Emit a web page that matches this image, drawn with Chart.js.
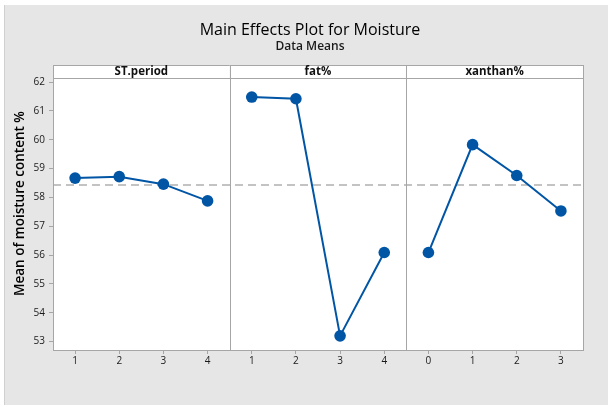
<!DOCTYPE html>
<html>
<head>
<meta charset="utf-8">
<script src="https://cdn.jsdelivr.net/npm/chart.js@4.4.1/dist/chart.umd.min.js"></script>
<style>
  html, body { margin: 0; padding: 0; background: #ffffff; }
  #wrap { position: relative; width: 608px; height: 407px; }
  canvas { position: absolute; left: 0; top: 0; }
  .ttl { position: absolute; left: 0; width: 620px; text-align: center; font-family: "Open Sans", sans-serif; color: #000; white-space: nowrap; }
  #t1 { top: 19px; font-size: 16px; line-height: 20px; font-weight: 500; }
  #t2 { top: 38px; font-size: 12px; line-height: 15px; font-weight: 600; color: #1a1a1a; }
</style>
</head>
<body>
<div id="wrap">
  <canvas id="c" width="608" height="407"></canvas>
  <div class="ttl" id="t1">Main Effects Plot for Moisture</div>
  <div class="ttl" id="t2">Data Means</div>
</div>
<script>
// ---- data ----
const factors = ["ST.period", "fat%", "xanthan%"];
const stLevels = ["1", "2", "3", "4"];
const fatLevels = ["1", "2", "3", "4"];
const xanLevels = ["0", "1", "2", "3"];
const stMeans = [58.67, 58.72, 58.46, 57.88];
const fatMeans = [61.48, 61.42, 53.20, 56.09];
const xanMeans = [56.09, 59.83, 58.76, 57.53];
const grandMean = 58.43;
const yTicks = [53, 54, 55, 56, 57, 58, 59, 60, 61, 62];

const levelSets = [stLevels, fatLevels, xanLevels];
const meanSets = [stMeans, fatMeans, xanMeans];
const tickLabels = [].concat(stLevels, fatLevels, xanLevels);
const perPanel = 4;
const nPanels = factors.length;

const BLUE = "#0055a5";
const GREY = "#a6a6a6";

function panelPoints(p) {
  return meanSets[p].map((v, i) => ({ x: p * perPanel + i + 0.5, y: v }));
}

const datasets = [{
  label: "mean",
  data: [{ x: 0, y: grandMean }, { x: nPanels * perPanel, y: grandMean }],
  borderColor: "#b0b0b0",
  borderWidth: 1.5,
  borderDash: [8, 5],
  pointRadius: 0,
  order: 5
}];
for (let p = 0; p < nPanels; p++) {
  datasets.push({
    label: factors[p],
    data: panelPoints(p),
    borderColor: BLUE,
    backgroundColor: BLUE,
    borderWidth: 2,
    pointRadius: 5.8,
    pointBackgroundColor: BLUE,
    pointBorderColor: BLUE,
    pointBorderWidth: 0,
    order: 1
  });
}

const bgPlugin = {
  id: "bg",
  beforeDraw(chart) {
    const ctx = chart.ctx;
    ctx.save();
    ctx.fillStyle = "#ffffff";
    ctx.fillRect(0, 0, chart.width, chart.height);
    ctx.fillStyle = "#e6e6e6";
    ctx.fillRect(5, 5, chart.width - 5, chart.height - 7);
    ctx.strokeStyle = "#d0d0d0";
    ctx.lineWidth = 1;
    ctx.beginPath();
    ctx.moveTo(4.5, 5); ctx.lineTo(4.5, chart.height - 2);
    ctx.stroke();
    const a = chart.chartArea;
    ctx.fillStyle = "#ffffff";
    ctx.fillRect(a.left, a.top, a.right - a.left, a.bottom - a.top);
    ctx.restore();
  }
};

const framePlugin = {
  id: "frame",
  afterDraw(chart) {
    const ctx = chart.ctx;
    const a = chart.chartArea;
    const xs = chart.scales.x;
    const stripH = 12.6;
    ctx.save();
    // strips
    for (let p = 0; p < nPanels; p++) {
      const l = xs.getPixelForValue(p * perPanel);
      const r = xs.getPixelForValue((p + 1) * perPanel);
      ctx.fillStyle = "#ffffff";
      ctx.fillRect(l, a.top - stripH, r - l, stripH);
      ctx.strokeStyle = GREY;
      ctx.lineWidth = 1;
      ctx.strokeRect(Math.round(l) + 0.5, Math.round(a.top - stripH) + 0.5, Math.round(r - l), Math.round(stripH));
      ctx.fillStyle = "#111";
      ctx.font = "bold 11.5px 'Open Sans', sans-serif";
      ctx.textAlign = "center";
      ctx.textBaseline = "middle";
      ctx.fillText(factors[p], (l + r) / 2, a.top - stripH / 2 + 0.5);
    }
    // frame and dividers
    ctx.strokeStyle = GREY;
    ctx.lineWidth = 1;
    ctx.strokeRect(Math.round(a.left) + 0.5, Math.round(a.top) + 0.5, Math.round(a.right - a.left), Math.round(a.bottom - a.top));
    for (let p = 1; p < nPanels; p++) {
      const x = Math.round(xs.getPixelForValue(p * perPanel)) + 0.5;
      ctx.beginPath();
      ctx.moveTo(x, a.top - stripH);
      ctx.lineTo(x, a.bottom);
      ctx.stroke();
    }
    ctx.restore();
  }
};

new Chart(document.getElementById("c"), {
  type: "line",
  data: { datasets },
  plugins: [bgPlugin, framePlugin],
  options: {
    responsive: false,
    animation: false,
    events: [],
    layout: { padding: { left: 8, right: 25, top: 78, bottom: 0 } },
    plugins: { legend: { display: false }, tooltip: { enabled: false }, title: { display: false } },
    scales: {
      x: {
        type: "linear",
        min: 0,
        max: nPanels * perPanel,
        afterBuildTicks(s) {
          s.ticks = tickLabels.map((t, i) => ({ value: i + 0.5 }));
        },
        afterFit(s) { s.height = 57; },
        ticks: {
          autoSkip: false,
          maxRotation: 0,
          padding: 1,
          color: "#1a1a1a",
          font: { family: "'Open Sans', sans-serif", size: 10 },
          callback: (v, i) => tickLabels[i]
        },
        grid: { drawOnChartArea: false, tickLength: 4, color: GREY },
        border: { display: false }
      },
      y: {
        type: "linear",
        min: 52.71,
        max: 62.14,
        afterBuildTicks(s) { s.ticks = yTicks.map(v => ({ value: v })); },
        afterFit(s) { s.width = 45; },
        ticks: {
          padding: 4,
          color: "#1a1a1a",
          font: { family: "'Open Sans', sans-serif", size: 10 },
          callback: v => String(v)
        },
        grid: { drawOnChartArea: false, tickLength: 4, color: GREY },
        border: { display: false },
        title: {
          display: true,
          text: "      Mean of moisture content %",
          color: "#000",
          padding: { top: 4, bottom: 0 },
          font: { family: "'Open Sans', sans-serif", size: 13.5, weight: "600" }
        }
      }
    }
  }
});
</script>
</body>
</html>
